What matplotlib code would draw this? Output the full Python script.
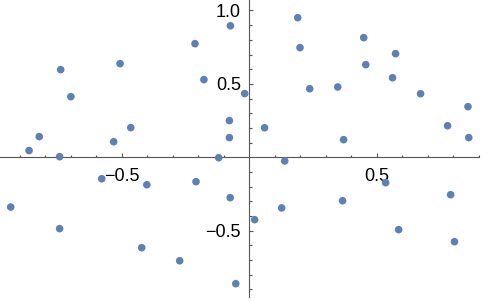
import numpy as np
import matplotlib
matplotlib.use('Agg')
import matplotlib.pyplot as plt
from matplotlib import ticker

# point coordinates
xs = [-0.074, -0.213, -0.507, -0.740, -0.178, -0.018, -0.700, -0.078, -0.465, -0.824,
      -0.078, -0.532, -0.864, 0.190, 0.199, 0.449, 0.574, 0.457, 0.562, 0.237,
      0.347, 0.672, 0.858, 0.060, 0.778, 0.370, 0.861, -0.744, -0.120, -0.579,
      -0.402, -0.209, -0.075, -0.936, -0.744, -0.422, -0.273, -0.053, 0.139, 0.535,
      0.790, 0.366, 0.127, 0.021, 0.586, 0.805]
ys = [0.896, 0.774, 0.638, 0.597, 0.529, 0.434, 0.413, 0.250, 0.202, 0.141,
      0.134, 0.106, 0.046, 0.951, 0.747, 0.815, 0.706, 0.631, 0.542, 0.467,
      0.479, 0.433, 0.345, 0.201, 0.215, 0.120, 0.134, 0.004, -0.003, -0.146,
      -0.187, -0.166, -0.275, -0.339, -0.486, -0.616, -0.705, -0.861, -0.025, -0.173,
      -0.255, -0.296, -0.345, -0.425, -0.493, -0.575]

x_major = [-0.5, 0.5]
y_major = [-0.5, 0.5, 1.0]

plt.rcParams['font.family'] = ['Liberation Sans', 'DejaVu Sans']

fig = plt.figure(figsize=(4.82, 3.01), dpi=100)
ax = fig.add_axes([0, 0, 1, 1])
ax.scatter(xs, ys, s=30, color='#5E81B5', edgecolors='none', zorder=3)

ax.set_xlim(-0.978, 0.913)
ax.set_ylim(-0.979, 1.0715)

axis_color = '#555555'
for side in ['top', 'right']:
    ax.spines[side].set_visible(False)
ax.spines['left'].set_position(('data', 0))
ax.spines['bottom'].set_position(('data', 0))
ax.spines['bottom'].set_bounds(-0.978, 0.9)
ax.spines['left'].set_bounds(-0.95, 1.0715)
for side in ['left', 'bottom']:
    ax.spines[side].set_color(axis_color)
    ax.spines[side].set_linewidth(0.8)

ax.xaxis.set_major_locator(ticker.FixedLocator(x_major))
ax.yaxis.set_major_locator(ticker.FixedLocator(y_major))
ax.xaxis.set_major_formatter(ticker.FixedFormatter(['\u22120.5', '0.5']))
ax.yaxis.set_major_formatter(ticker.FixedFormatter(['\u22120.5', '0.5', '1.0']))

minor_x = [v / 10 for v in range(-9, 10) if v not in (-5, 0, 5)]
minor_y = [v / 10 for v in range(-9, 11) if v not in (-5, 0, 5, 10)]
ax.xaxis.set_minor_locator(ticker.FixedLocator(minor_x))
ax.yaxis.set_minor_locator(ticker.FixedLocator(minor_y))

ax.tick_params(which='both', direction='in', color=axis_color, width=0.8,
               labelsize=13, labelcolor='black')
ax.tick_params(which='major', length=3)
ax.tick_params(which='minor', length=1.8)
ax.tick_params(axis='x', which='major', pad=8)
ax.tick_params(axis='y', which='major', pad=6)

fig.savefig('out.png', dpi=100)
